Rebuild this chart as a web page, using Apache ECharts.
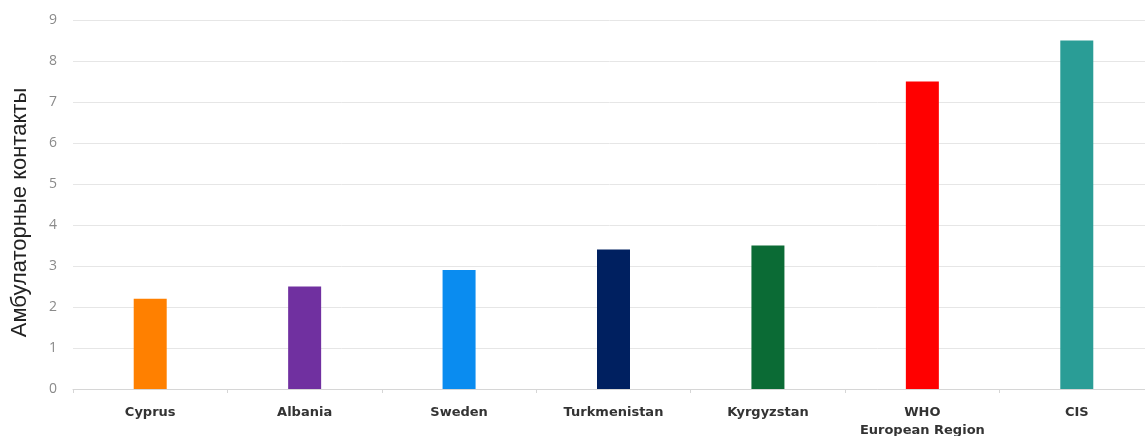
<!DOCTYPE html>
<html><head><meta charset="utf-8">
<script src="https://cdn.jsdelivr.net/npm/echarts@6/dist/echarts.min.js"></script>
<style>html,body{margin:0;padding:0;background:#fff}#c{width:1145px;height:436px}</style>
</head><body><div id="c"></div>
<script>
const categories = ["Cyprus", "Albania", "Sweden", "Turkmenistan", "Kyrgyzstan", "WHO\nEuropean Region", "CIS"];
const values = [2.2, 2.5, 2.9, 3.4, 3.5, 7.5, 8.5];
const colors = ["#FF8000", "#7030A0", "#0A8CF0", "#002060", "#0B6B35", "#FF0000", "#2A9D96"];
const yTicks = [0, 1, 2, 3, 4, 5, 6, 7, 8, 9];
const yName = "Амбулаторные контакты";

const chart = echarts.init(document.getElementById('c'), null, {renderer: 'canvas'});
chart.setOption({
  animation: false,
  grid: {left: 73, top: 20, width: 1081, height: 369, containLabel: false, outerBoundsMode: 'none'},
  xAxis: {
    type: 'category',
    data: categories,
    boundaryGap: true,
    axisLine: {lineStyle: {color: '#d6d6d6'}},
    axisTick: {show: true, interval: 0, length: 4, lineStyle: {color: '#d6d6d6'}},
    axisLabel: {interval: 0, hideOverlap: false, color: '#333', fontFamily: 'DejaVu Sans', fontWeight: 'bold', fontSize: 13, margin: 15, lineHeight: 18}
  },
  yAxis: {
    type: 'value',
    min: yTicks[0], max: yTicks[yTicks.length - 1], interval: 1,
    name: yName,
    nameLocation: 'middle',
    nameGap: 42,
    nameTextStyle: {color: '#222', fontFamily: 'Liberation Sans', fontSize: 22, padding: [0, 16, 0, 0]},
    axisLine: {show: false},
    axisTick: {show: false},
    axisLabel: {color: '#8a8a8a', fontFamily: 'Open Sans', fontSize: 14, margin: 16},
    splitLine: {lineStyle: {color: '#e6e6e6'}}
  },
  series: [{
    type: 'bar',
    data: values.map((v, i) => ({value: v, itemStyle: {color: colors[i]}})),
    barWidth: 33
  }]
});
</script></body></html>
